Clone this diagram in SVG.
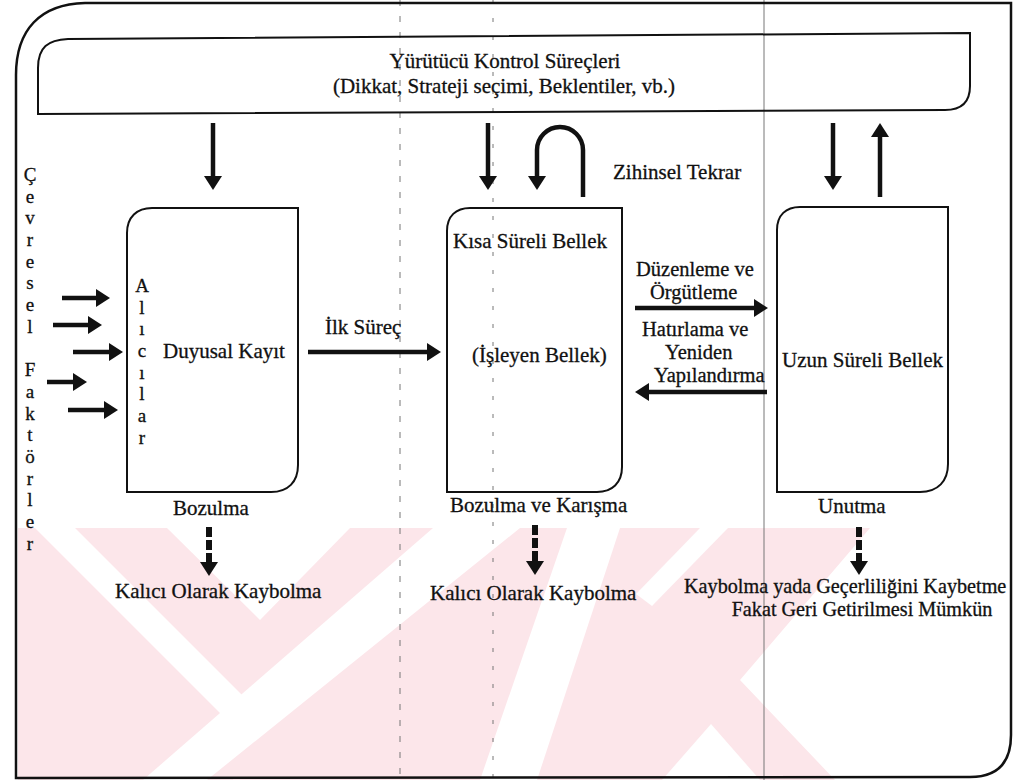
<svg xmlns="http://www.w3.org/2000/svg" width="1017" height="780" viewBox="0 0 1017 780" font-family="'Liberation Serif', 'Times New Roman', Times, serif">
<defs>
<style>
text{font-family:'Liberation Serif','Times New Roman',Times,serif;font-size:21px;fill:#111;stroke:#111;stroke-width:0.3}
.v{font-size:19px}
.m{font-size:20.5px}
.box{fill:none;stroke:#111;stroke-width:2}
.frame{fill:none;stroke:#111;stroke-width:2.5}
.arr{fill:none;stroke:#111;stroke-width:4.5;marker-end:url(#ah)}
.dash{fill:none;stroke:#111;stroke-width:6;stroke-dasharray:10 3;marker-end:url(#ah)}
.guide{fill:none;stroke:#777;stroke-width:1}
.wm{fill:#fce6ea;stroke:none}
.wg{fill:#fff;stroke:none}
</style>
<marker id="ah" viewBox="0 0 14 18" refX="1" refY="9" markerWidth="14" markerHeight="18" markerUnits="userSpaceOnUse" orient="auto">
<path d="M0,0 L14,9 L0,18 Z" fill="#111"/>
</marker>
</defs>
<rect width="1017" height="780" fill="#fff"/>
<g id="watermark">
<polygon class="wm" points="18,528 870,528 740,680 835,780 18,780"/>
<polygon class="wg" points="35,528 75,528 266,719 226,719"/>
<polygon class="wg" points="167,528 350,528 260,620"/>
<polygon class="wg" points="433,528 520,528 207,780 143,780"/>
<polygon class="wg" points="567,528 620,528 537,780 480,780"/>
<polygon class="wg" points="700,528 728,528 652,606 636,594"/>
<polygon class="wg" points="662,780 760,780 711,724"/>
</g>
<g id="guides">
<line class="guide" x1="400" y1="0" x2="400" y2="780" stroke-dasharray="6 10"/>
<line class="guide" x1="493" y1="0" x2="493" y2="780" stroke-dasharray="4 14"/>
<line class="guide" x1="764" y1="0" x2="764" y2="780" stroke="#333"/>
</g>
<g id="frame">
<path class="frame" d="M16,778 L16,75 C16,30 40,4 85,3 L1011,3 L1011,735 C1011,765 995,777 970,777 Z"/>
</g>
<g id="control">
<path class="box" d="M38,114 L38,68 C38,47 48,40 68,39 L970,33 L970,86 C970,102 962,110 945,110 Z"/>
<text x="505" y="68" text-anchor="middle">Yürütücü Kontrol Süreçleri</text>
<text x="504" y="93" text-anchor="middle">(Dikkat, Strateji seçimi, Beklentiler, vb.)</text>
</g>
<g id="env">
<text class="v" text-anchor="middle"><tspan x="30" y="181">Ç</tspan><tspan x="30" y="203">e</tspan><tspan x="30" y="224">v</tspan><tspan x="30" y="246">r</tspan><tspan x="30" y="268">e</tspan><tspan x="30" y="289">s</tspan><tspan x="30" y="311">e</tspan><tspan x="30" y="333">l</tspan><tspan x="30" y="376">F</tspan><tspan x="30" y="398">a</tspan><tspan x="30" y="420">k</tspan><tspan x="30" y="441">t</tspan><tspan x="30" y="463">ö</tspan><tspan x="30" y="485">r</tspan><tspan x="30" y="506">l</tspan><tspan x="30" y="528">e</tspan><tspan x="30" y="550">r</tspan></text>
</g>
<g id="sensory">
<path class="box" d="M127,492 L127,233 C127,217 137,208 152,208 L298,208 L298,465 C298,482 288,492 271,492 Z"/>
<text class="v" text-anchor="middle"><tspan x="142" y="292">A</tspan><tspan x="142" y="314">l</tspan><tspan x="142" y="335">ı</tspan><tspan x="142" y="357">c</tspan><tspan x="142" y="379">ı</tspan><tspan x="142" y="400">l</tspan><tspan x="142" y="422">a</tspan><tspan x="142" y="444">r</tspan></text>
<text x="163" y="358">Duyusal Kayıt</text>
<text x="173" y="515">Bozulma</text>
<text x="115" y="598">Kalıcı Olarak Kaybolma</text>
</g>
<g id="stm">
<path class="box" d="M447,492 L447,231 C447,216 456,208 470,208 L622,208 L622,467 C622,483 612,492 597,492 Z"/>
<text x="453" y="248">Kısa Süreli Bellek</text>
<text x="472" y="362">(İşleyen Bellek)</text>
<text x="450" y="512">Bozulma ve Karışma</text>
<text x="430" y="600">Kalıcı Olarak Kaybolma</text>
<text x="613" y="179">Zihinsel Tekrar</text>
</g>
<g id="ltm">
<path class="box" d="M777,492 L777,230 C777,215 786,207 800,207 L948,207 L948,464 C948,481 938,492 920,492 Z"/>
<text x="782" y="367">Uzun Süreli Bellek</text>
<text x="818" y="513">Unutma</text>
<text x="684" y="593" style="font-size:20.2px">Kaybolma yada Geçerliliğini Kaybetme</text>
<text x="862" y="616" text-anchor="middle" style="font-size:20.2px">Fakat Geri Getirilmesi Mümkün</text>
</g>
<g id="labels">
<text x="325" y="334">İlk Süreç</text>
<text class="m" x="636" y="276">Düzenleme ve</text>
<text class="m" x="650" y="298.5">Örgütleme</text>
<text class="m" x="642" y="336">Hatırlama ve</text>
<text class="m" x="665" y="358.5">Yeniden</text>
<text class="m" x="654" y="381.5">Yapılandırma</text>
</g>
<g id="connectors">
<line class="arr" x1="213" y1="123" x2="213" y2="177"/>
<line class="arr" x1="488" y1="123" x2="488" y2="177"/>
<path class="arr" d="M583,197 L583,150 A23,23 0 0 0 537,150 L537,177"/>
<line class="arr" x1="833" y1="123" x2="833" y2="177"/>
<line class="arr" x1="880" y1="197" x2="880" y2="136"/>
<line class="arr" x1="308" y1="352" x2="428" y2="352"/>
<line class="arr" x1="635" y1="308" x2="755" y2="308"/>
<line class="arr" x1="767" y1="392" x2="648" y2="392"/>
<line class="arr" x1="62" y1="298" x2="97" y2="298"/>
<line class="arr" x1="53" y1="325" x2="89" y2="325"/>
<line class="arr" x1="73" y1="352" x2="110" y2="352"/>
<line class="arr" x1="47" y1="382" x2="74" y2="382"/>
<line class="arr" x1="68" y1="410" x2="105" y2="410"/>
<line class="dash" x1="209" y1="527" x2="209" y2="563"/>
<line class="dash" x1="535" y1="525" x2="535" y2="562"/>
<line class="dash" x1="859" y1="527" x2="859" y2="562"/>
</g>
</svg>
